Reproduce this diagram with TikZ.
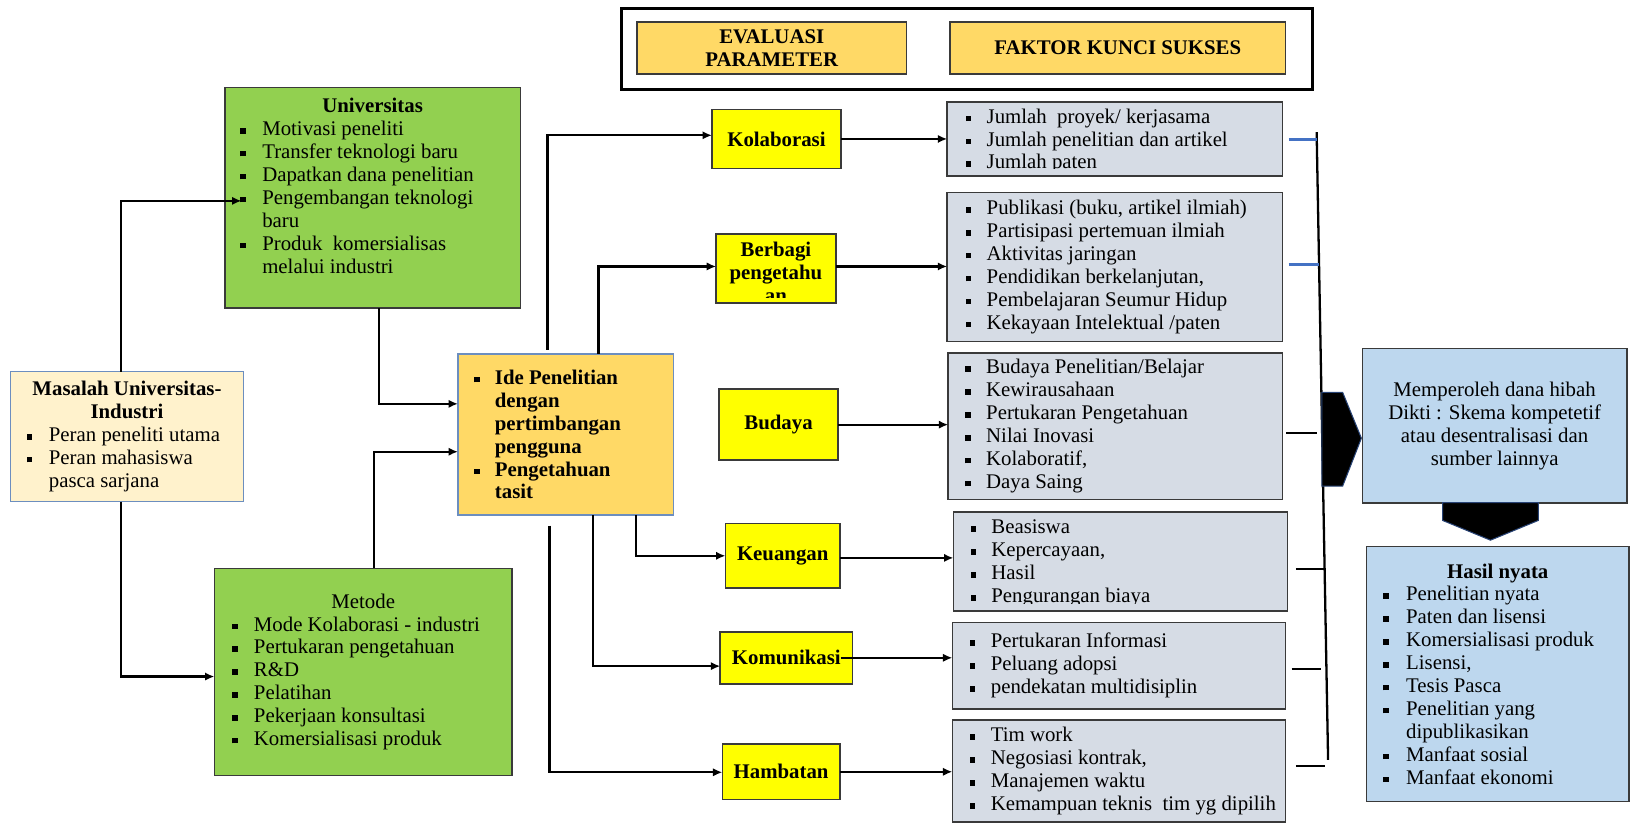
\documentclass[tikz,border=0pt]{standalone}
\usepackage{fontspec}
\setmainfont{Liberation Serif}
\usetikzlibrary{arrows.meta,calc}
\definecolor{cgreen}{HTML}{92D050}
\definecolor{clyel}{HTML}{FFF2CC}
\definecolor{cgold}{HTML}{FFD966}
\definecolor{cyel}{HTML}{FFFF00}
\definecolor{cgray}{HTML}{D6DCE5}
\definecolor{cblue}{HTML}{BDD7EE}
\definecolor{cline}{HTML}{4472C4}
\definecolor{cedge}{HTML}{3A3A3A}
\definecolor{cbedge}{HTML}{6C8EBF}
\newlength\bi \newlength\li
\newcommand\tf{\fontsize{10}{11}\selectfont}
\newcommand\bul{\rule[1pt]{2.6pt}{2.6pt}}
\newcommand\itm[1]{\par\hangindent=\li\hangafter=1\noindent\hbox to\li{\hskip\bi\bul\hfil}#1}
\newcommand\lst[4]{\parbox{#1}{\tf\setlength\bi{#2}\setlength\li{#3}\raggedright #4\par}}
\tikzset{
  corners/.style n args={4}{at={({(#1+#3)/2},{(#2+#4)/2})}, minimum width={(#3-#1)*0.5pt}, minimum height={(#4-#2)*0.5pt}},
  bx/.style={rectangle, inner sep=0pt, outer sep=0pt, line width=0.75pt, draw=cedge},
  ylw/.style={bx, fill=cyel, font=\tf\bfseries, align=center},
  gry/.style={bx, fill=cgray},
  lbl/.style={bx, fill=cblue},
  conn/.style={line width=1.1pt, draw=black, -{Latex[length=4.5pt,width=4pt]}},
  tickb/.style={line width=1.6pt, draw=cline},
  tickk/.style={line width=1.1pt, draw=black},
  pent/.style={fill=black, draw=cline!60!black, line width=0.5pt}
}
\begin{document}
\begin{tikzpicture}[x=0.5pt,y=-0.5pt]
\useasboundingbox (0,0) rectangle (1568,794);

% header
\node[bx, draw=black, line width=1.4pt, corners={597}{8}{1261}{86}] (hdr) {};
\node[bx, fill=cgold, corners={612}{21}{871}{71}, font=\tf\bfseries, align=center] (evp) {EVALUASI\\PARAMETER};
\node[bx, fill=cgold, corners={913}{21}{1235}{71}, font=\tf\bfseries] (fks) {FAKTOR KUNCI SUKSES};

% left part
\node[bx, fill=cgreen, corners={216}{84}{500}{296}] (univ) {\lst{141pt}{7pt}{17.5pt}{{\centering\bfseries Universitas\par}\itm{Motivasi peneliti}\itm{Transfer teknologi baru}\itm{Dapatkan dana penelitian}\itm{Pengembangan teknologi\newline baru}\itm{Produk\ \ komersialisas\newline melalui industri}\par\kern11.5pt}};
\node[bx, fill=clyel, draw=cbedge, corners={10}{357}{234}{482}] (mas) {\lst{111pt}{7.5pt}{18pt}{{\centering\bfseries Masalah Universitas-\\Industri\par}\itm{Peran peneliti utama}\itm{Peran mahasiswa\newline pasca sarjana}}};
\node[bx, fill=cgreen, corners={206}{546}{492}{745}] (met) {\lst{142pt}{8pt}{18.5pt}{{\centering Metode\par}\itm{Mode Kolaborasi - industri}\itm{Pertukaran pengetahuan}\itm{R\&D}\itm{Pelatihan}\itm{Pekerjaan konsultasi}\itm{Komersialisasi produk}}};
\node[bx, fill=cgold, draw=cbedge, corners={440}{340}{647}{495}] (ide) {\lst{103pt}{7.5pt}{17.5pt}{\bfseries\itm{Ide Penelitian\newline dengan\newline pertimbangan\newline pengguna}\itm{Pengetahuan\newline tasit}}};

% yellow parameter boxes
\node[ylw, corners={684}{105}{808}{162}] (kol) {Kolaborasi};
\node[bx, fill=cyel, corners={688}{225}{803}{291}] (ber) {};
\begin{scope}
\clip ($(ber.north west)+(1,1)$) rectangle ($(ber.south east)+(-1,-5)$);
\node[font=\tf\bfseries, align=center, inner sep=0pt] (berT) at ($(ber.center)+(0,4)$) {Berbagi\\pengetahu\\an};
\end{scope}
\node[ylw, corners={691}{374}{805}{442}] (bud) {Budaya};
\node[ylw, corners={697}{503}{807}{565}] (keu) {Keuangan};
\node[ylw, corners={692}{607}{819}{657}] (kom) {Komunikasi};
\node[ylw, corners={694}{715}{807}{768}] (ham) {Hambatan};

% gray factor boxes
\node[gry, corners={910}{98}{1232}{169}] (g1) {};
\begin{scope}
\clip ($(g1.north west)+(1,1)$) rectangle ($(g1.south east)+(-1,-7)$);
\node[inner sep=0pt] (g1T) at ($(g1.center)+(0,2)$) {\lst{160pt}{8.5pt}{18.5pt}{\itm{Jumlah\ \ proyek/ kerjasama}\itm{Jumlah penelitian dan artikel}\itm{Jumlah paten}}};
\end{scope}
\node[gry, corners={910}{185}{1232}{328}] (g2) {\lst{160pt}{8.5pt}{18.5pt}{\itm{Publikasi (buku, artikel ilmiah)}\itm{Partisipasi pertemuan ilmiah}\itm{Aktivitas jaringan}\itm{Pendidikan berkelanjutan,}\itm{Pembelajaran Seumur Hidup}\itm{Kekayaan Intelektual /paten}}};
\node[gry, corners={911}{339}{1232}{480}] (g3) {\lst{160pt}{8pt}{18pt}{\itm{Budaya Penelitian/Belajar}\itm{Kewirausahaan}\itm{Pertukaran Pengetahuan}\itm{Nilai Inovasi}\itm{Kolaboratif,}\itm{Daya Saing}}};
\node[gry, corners={916}{492}{1237}{587}] (g4) {};
\begin{scope}
\clip ($(g4.north west)+(1,1)$) rectangle ($(g4.south east)+(-1,-7)$);
\node[inner sep=0pt] (g4T) at ($(g4.center)+(0,2)$) {\lst{160pt}{8pt}{18pt}{\itm{Beasiswa}\itm{Kepercayaan,}\itm{Hasil}\itm{Pengurangan biaya}}};
\end{scope}
\node[gry, corners={915}{598}{1235}{681}] (g5) {\lst{159pt}{8pt}{18pt}{\itm{Pertukaran Informasi}\itm{Peluang adopsi}\itm{pendekatan multidisiplin}}};
\node[gry, corners={915}{692}{1235}{790}] (g6) {\lst{159pt}{8pt}{18pt}{\itm{Tim work}\itm{Negosiasi kontrak,}\itm{Manajemen waktu}\itm{Kemampuan teknis\ \ tim yg dipilih}}};

% right result boxes
\node[lbl, corners={1309}{335}{1563}{483}, font=\tf, align=center] (mem) {Memperoleh dana hibah\\Dikti : Skema kompetetif\\atau desentralisasi dan\\sumber lainnya};
\node[lbl, corners={1313}{525}{1565}{770}] (has) {\lst{125pt}{7.5pt}{18.5pt}{{\centering\bfseries Hasil nyata\par}\itm{Penelitian nyata}\itm{Paten dan lisensi}\itm{Komersialisasi produk}\itm{Lisensi,}\itm{Tesis Pasca}\itm{Penelitian yang\newline dipublikasikan}\itm{Manfaat sosial}\itm{Manfaat ekonomi}}};

% connectors on the left
\coordinate (cA) at (116,193);
\coordinate (cB) at (116,650);
\coordinate (cC) at (364,388);
\coordinate (cD) at (359,434);
\draw[conn] (mas.north -| cA) |- ($(univ.west |- cA)+(16,0)$);
\draw[conn] (mas.south -| cB) |- (met.west |- cB);
\draw[conn] (univ.south -| cC) |- (ide.west |- cC);
\draw[conn] (met.north -| cD) |- (ide.west |- cD);

% connectors from the idea box
\coordinate (cE) at (526,130);
\coordinate (cF) at (575,256);
\coordinate (cG) at (611,534);
\coordinate (cH) at (570,640);
\coordinate (cI) at (528,742);
\draw[conn] ($(ide.north -| cE)+(0,-4)$) |- (kol.west |- cE);
\draw[conn] (ide.north -| cF) |- (ber.west |- cF);
\draw[conn] (ide.south -| cG) |- (keu.west |- cG);
\draw[conn] (ide.south -| cH) |- (kom.west |- cH);
\draw[conn] ($(ide.south -| cI)+(0,10)$) |- (ham.west |- cI);

% parameter -> factor
\draw[conn] (kol.east) -- (kol.east -| g1.west);
\draw[conn] ($(ber.east)+(0,-2)$) -- ($(ber.east -| g2.west)+(0,-2)$);
\draw[conn] (bud.east) -- (bud.east -| g3.west);
\draw[conn] ($(keu.east)+(0,2)$) -- ($(keu.east -| g4.west)+(0,2)$);
\draw[conn] ($(kom.east)+(-11,0)$) -- (kom.east -| g5.west);
\draw[conn] (ham.east) -- (ham.east -| g6.west);

% bracket
\coordinate (br1) at (1265,127);
\coordinate (br2) at (1276,730);
\draw[line width=1.1pt] (br1) -- (br2);
\draw[tickb] ($(g1.east)+(6,0.5)$) -- ++(27,0);
\draw[tickb] ($(g2.east)+(6,-2.5)$) -- ++(29,0);
\draw[tickk] ($(g3.east)+(4,6.5)$) -- ++(29,0);
\draw[tickk] ($(g4.east)+(8,7.5)$) -- ++(28,0);
\draw[tickk] ($(g5.east)+(6,3.5)$) -- ++(28,0);
\draw[tickk] ($(g6.east)+(10,-5)$) -- ++(28,0);

% block arrows
\path[pent] (1270,377) -- (1290,377) -- (1308,421) -- (1290,467) -- (1270,467) -- cycle;
\path[pent] (1386,483) -- (1478,483) -- (1478,500) -- (1432,519) -- (1386,500) -- cycle;
\end{tikzpicture}
\end{document}
